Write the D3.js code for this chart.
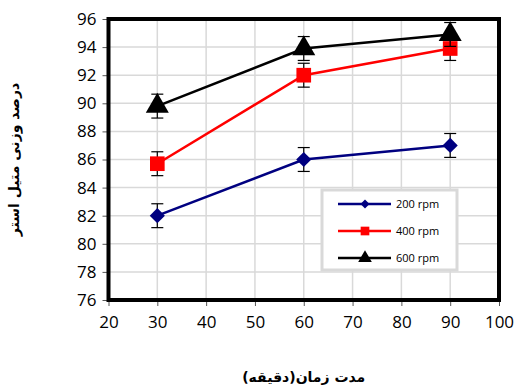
<!DOCTYPE html>
<html>
<head>
<meta charset="utf-8">
<script src="https://cdn.jsdelivr.net/npm/d3@7"></script>
<style>
  body { margin: 0; background: #fff; }
  svg text { font-family: "Open Sans", "Liberation Sans", sans-serif; }
</style>
</head>
<body>
<div id="chart"></div>
<script>
const times = [30, 60, 90];
const rpm200 = [82.0, 86.0, 87.0];
const rpm400 = [85.7, 92.0, 93.9];
const rpm600 = [89.8, 93.9, 94.9];
const errors = [0.85, 0.85, 0.85];
const seriesNames = ["200 rpm", "400 rpm", "600 rpm"];
const xTicks = [20, 30, 40, 50, 60, 70, 80, 90, 100];
const yTicks = [76, 78, 80, 82, 84, 86, 88, 90, 92, 94, 96];
const xTitle = "مدت زمان(دقیقه)";
const yTitle = "درصد وزنی متیل استر";

const width = 515, height = 390;
const margin = { left: 108.5, right: 16, top: 19, bottom: 90 };
const seriesColors = ["#000080", "#ff0000", "#000000"];
const seriesShapes = [d3.symbolSquare, d3.symbolSquare, d3.symbolTriangle];
const seriesRotate = [45, 0, 0];
const seriesSizes = [115, 215, 230];

const svg = d3.select("#chart").append("svg")
  .attr("width", width)
  .attr("height", height);

const x = d3.scaleLinear().domain([20, 100]).range([margin.left, width - margin.right]);
const y = d3.scaleLinear().domain([76, 96]).range([height - margin.bottom, margin.top]);

// grid
svg.append("g").selectAll("line.vg")
  .data(xTicks).enter().append("line")
  .attr("x1", d => x(d)).attr("x2", d => x(d))
  .attr("y1", y(96)).attr("y2", y(76))
  .attr("stroke", "#d9d9d9").attr("stroke-width", 1.5);
svg.append("g").selectAll("line.hg")
  .data(yTicks).enter().append("line")
  .attr("x1", x(20)).attr("x2", x(100))
  .attr("y1", d => y(d)).attr("y2", d => y(d))
  .attr("stroke", "#d9d9d9").attr("stroke-width", 1.5);

// axes
const xAxis = svg.append("g")
  .attr("transform", `translate(0,${y(76)})`)
  .call(d3.axisBottom(x).tickValues(xTicks).tickSize(6).tickPadding(10));
const yAxis = svg.append("g")
  .attr("transform", `translate(${x(20)},0)`)
  .call(d3.axisLeft(y).tickValues(yTicks).tickSize(6).tickPadding(6));
[xAxis, yAxis].forEach(a => {
  a.select(".domain").remove();
  a.selectAll("text").attr("font-size", 17).attr("fill", "#000")
    .style("font-family", "'Open Sans', sans-serif");
  a.selectAll("line").attr("stroke", "#555");
});

// frame
svg.append("rect")
  .attr("x", x(20)).attr("y", y(96))
  .attr("width", x(100) - x(20)).attr("height", y(76) - y(96))
  .attr("fill", "none").attr("stroke", "#000").attr("stroke-width", 4);

// series
const allSeries = [rpm200, rpm400, rpm600];
const line = d3.line().x((d, i) => x(times[i])).y(d => y(d));

allSeries.forEach((vals, s) => {
  const g = svg.append("g");
  g.append("path")
    .datum(vals)
    .attr("d", line)
    .attr("fill", "none")
    .attr("stroke", seriesColors[s])
    .attr("stroke-width", 2.5);
  // error bars
  const eb = g.selectAll("g.err").data(vals).enter().append("g")
    .attr("stroke", "#000").attr("stroke-width", 1.2);
  eb.append("line")
    .attr("x1", (d, i) => x(times[i])).attr("x2", (d, i) => x(times[i]))
    .attr("y1", (d, i) => y(d + errors[i])).attr("y2", (d, i) => y(d - errors[i]));
  eb.append("line")
    .attr("x1", (d, i) => x(times[i]) - 6).attr("x2", (d, i) => x(times[i]) + 6)
    .attr("y1", (d, i) => y(d + errors[i])).attr("y2", (d, i) => y(d + errors[i]));
  eb.append("line")
    .attr("x1", (d, i) => x(times[i]) - 6).attr("x2", (d, i) => x(times[i]) + 6)
    .attr("y1", (d, i) => y(d - errors[i])).attr("y2", (d, i) => y(d - errors[i]));
  // markers
  g.selectAll("path.mk").data(vals).enter().append("path")
    .attr("d", d3.symbol().type(seriesShapes[s]).size(seriesSizes[s]))
    .attr("transform", (d, i) => `translate(${x(times[i])},${y(d)}) rotate(${seriesRotate[s]})`)
    .attr("fill", seriesColors[s]);
});

// legend
const lg = svg.append("g").attr("transform", "translate(322,190)");
lg.append("rect")
  .attr("width", 135).attr("height", 80)
  .attr("fill", "#fff").attr("stroke", "#d9d9d9").attr("stroke-width", 3);
seriesNames.forEach((name, s) => {
  const yy = 14 + s * 27;
  lg.append("line")
    .attr("x1", 16).attr("x2", 69).attr("y1", yy).attr("y2", yy)
    .attr("stroke", seriesColors[s]).attr("stroke-width", 2.5);
  lg.append("path")
    .attr("d", d3.symbol().type(seriesShapes[s]).size(seriesSizes[s] * 0.35))
    .attr("transform", `translate(43,${yy}) rotate(${seriesRotate[s]})`)
    .attr("fill", seriesColors[s]);
  lg.append("text")
    .attr("x", 74).attr("y", yy).attr("dy", "0.35em")
    .attr("font-size", 11).attr("fill", "#000")
    .text(name);
});

// titles
svg.append("text")
  .attr("x", x(60)).attr("y", 382)
  .attr("text-anchor", "middle")
  .attr("font-size", 14).attr("font-weight", "bold")
  .style("font-family", "'DejaVu Sans', sans-serif")
  .attr("direction", "rtl")
  .text(xTitle);
svg.append("text")
  .attr("transform", `translate(19,${y(86)}) rotate(-90)`)
  .attr("text-anchor", "middle")
  .attr("font-size", 14).attr("font-weight", "bold")
  .style("font-family", "'DejaVu Sans', sans-serif")
  .attr("direction", "rtl")
  .text(yTitle);
</script>
</body>
</html>
